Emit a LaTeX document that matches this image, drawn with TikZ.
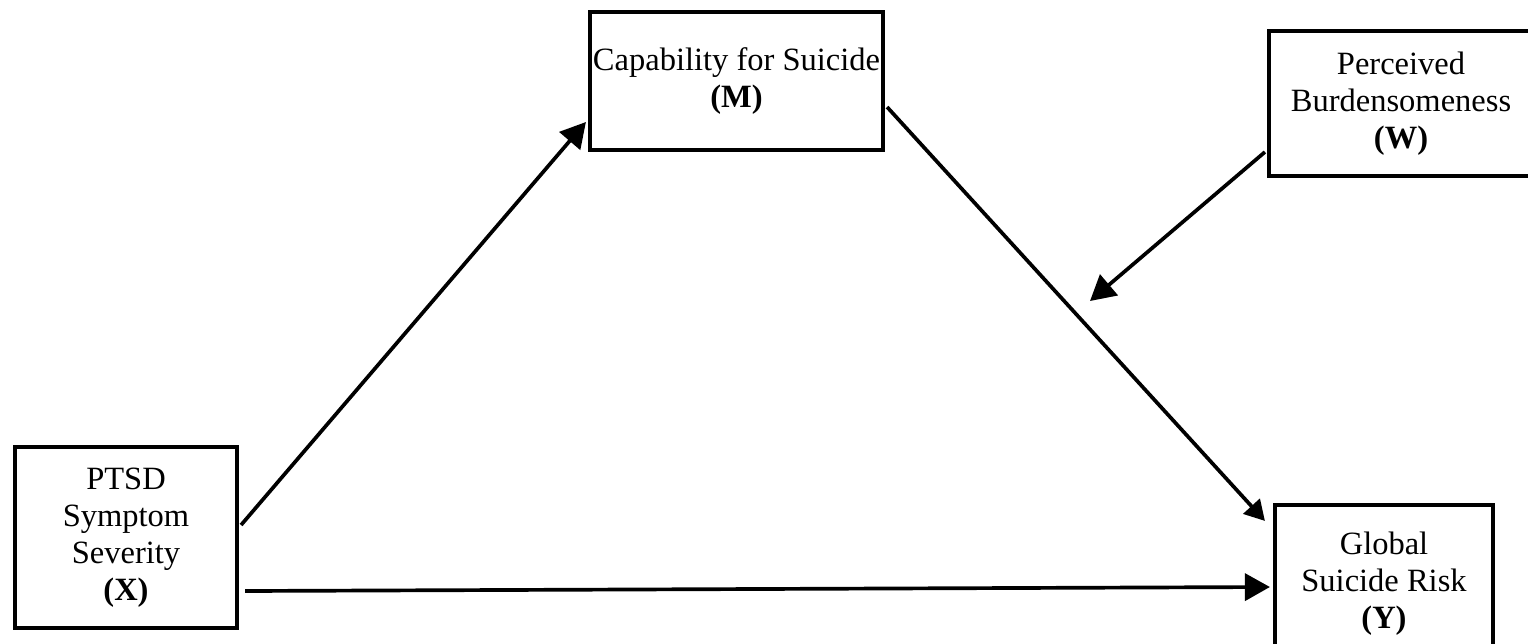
\documentclass[tikz,border=0pt]{standalone}
\usepackage{fontspec}
\setmainfont{Liberation Serif}
\usetikzlibrary{arrows.meta, calc}

\begin{document}
\begin{tikzpicture}[x=0.02cm, y=-0.02cm,
    varbox/.style={draw, line width=2.4pt, align=center, inner sep=0pt,
        font=\fontsize{18.5}{21}\selectfont},
    effect/.style={line width=2.1pt, -{Triangle[length=0.5cm, width=0.54cm]}},
    smalleffect/.style={line width=2.1pt, -{Triangle[length=0.4cm, width=0.44cm]}}]
        \useasboundingbox (0,0) rectangle (1528,643);
        %
        \node[varbox, minimum width=4.44cm, minimum height=3.62cm] (X) at (126,537.5)
            {PTSD\\Symptom\\Severity\\\textbf{(X)}};
        \node[varbox, minimum width=5.86cm, minimum height=2.76cm] (M) at (736.5,81)
            {Capability for Suicide\\\textbf{(M)}};
        \node[varbox, minimum width=5.28cm, minimum height=2.9cm] (W) at (1401,103.5)
            {Perceived\\Burdensomeness\\\textbf{(W)}};
        \node[varbox, minimum width=4.36cm, minimum height=3.16cm] (Y) at (1384,584)
            {Global\\Suicide Risk\\\textbf{(Y)}};
        %
        \coordinate (wtip) at (1090,301);
        %
        \draw[effect] ([shift={(2,-12.5)}]X.east) -- ([shift={(-2,41)}]M.west);
        \draw[smalleffect] ([shift={(2,26)}]M.east) -- ([shift={(-8,18)}]Y.north west);
        \draw[effect] ([shift={(-2,48.5)}]W.west) -- (wtip);
        \draw[effect] ([shift={(6,53.5)}]X.east) -- ([shift={(-3,3)}]Y.west);
    \end{tikzpicture}
\end{document}
